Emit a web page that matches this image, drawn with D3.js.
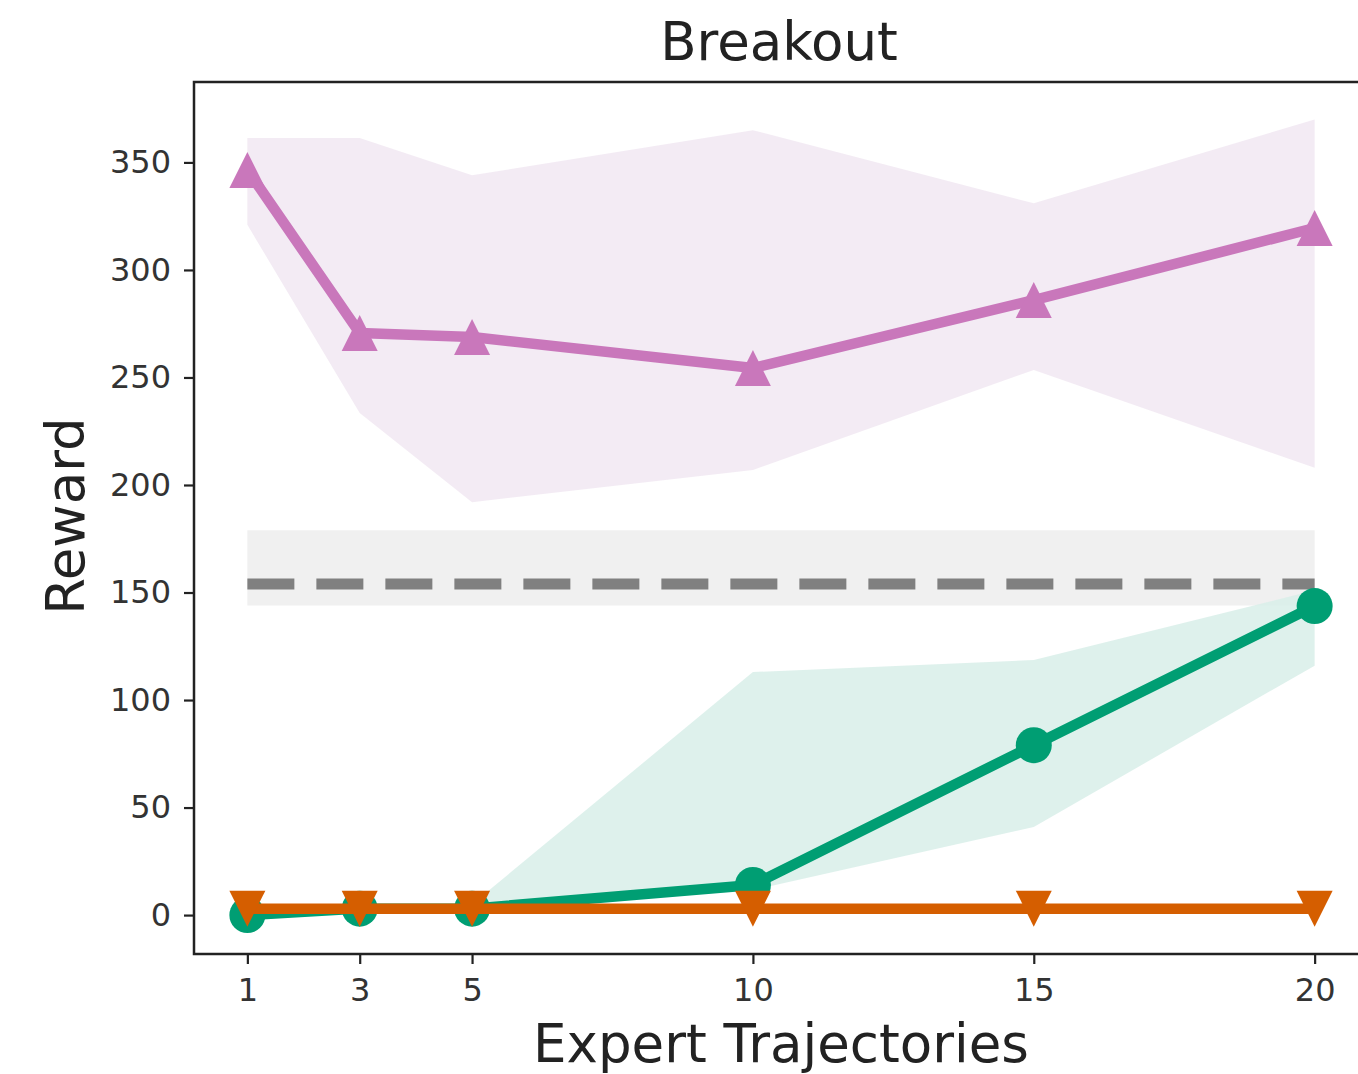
<!DOCTYPE html>
<html>
<head>
<meta charset="utf-8">
<script src="https://cdn.jsdelivr.net/npm/d3@7"></script>
<style>
  html, body { margin: 0; padding: 0; background: #fff; }
  svg { display: block; font-family: "DejaVu Sans", sans-serif; }
</style>
</head>
<body>
<div id="chart"></div>
<script>
// Breakout — reward vs number of expert trajectories
const TRAJ = [1, 3, 5, 10, 15, 20];
const X_TICKS = [1, 3, 5, 10, 15, 20];
const Y_TICKS = [0, 50, 100, 150, 200, 250, 300, 350];

// magenta triangles
const PINK_MEAN  = [346.5, 270.7, 268.8, 254.4, 286, 319.5];
const PINK_UPPER = [361.4, 361.4, 344, 365, 331, 370];
const PINK_LOWER = [321, 233.5, 192, 207, 253.5, 208];

// green circles
const GREEN_MEAN  = [0, 3, 3, 14, 79, 143.7];
const GREEN_UPPER = [0.5, 3.5, 5, 113, 118.6, 151];
const GREEN_LOWER = [-0.5, 2.5, 2.5, 11.6, 41, 116];

// orange down triangles
const ORANGE_MEAN = [3, 3, 3, 3, 3, 3];

// expert reference (dashed) with band
const EXPERT_MEAN = 154;
const EXPERT_UPPER = 179;
const EXPERT_LOWER = 144;

const W = 1358, H = 1074;
const M = { top: 82, left: 194 };
const PLOT_R = 1368, PLOT_B = 954;

const svg = d3.select("#chart").append("svg").attr("width", W).attr("height", H);

const x = d3.scaleLinear().domain([0.05, 20.95]).range([M.left, PLOT_R]);
const y = d3.scaleLinear().domain([-18.1, 387.4]).range([PLOT_B, M.top]);

const pts = (ys) => TRAJ.map((t, i) => ({ t, v: ys[i] }));
const band = (lo, hi) => TRAJ.map((t, i) => ({ t, lo: lo[i], hi: hi[i] }));

const areaGen = d3.area().x(d => x(d.t)).y0(d => y(d.lo)).y1(d => y(d.hi));
const lineGen = d3.line().x(d => x(d.t)).y(d => y(d.v));

const plot = svg.append("g");

// expert band + dashed line
plot.append("path")
  .datum([{ t: TRAJ[0], lo: EXPERT_LOWER, hi: EXPERT_UPPER }, { t: TRAJ[TRAJ.length - 1], lo: EXPERT_LOWER, hi: EXPERT_UPPER }])
  .attr("fill", "#f0f0f0").attr("d", areaGen);
plot.append("path")
  .datum([{ t: TRAJ[0], v: EXPERT_MEAN }, { t: TRAJ[TRAJ.length - 1], v: EXPERT_MEAN }])
  .attr("fill", "none").attr("stroke", "#808080").attr("stroke-width", 11)
  .attr("stroke-dasharray", "47,22").attr("d", lineGen);

const S = 18; // marker half size

function series(mean, lo, hi, color, marker, bandFill) {
  if (lo) {
    plot.append("path").datum(band(lo, hi))
      .attr("fill", bandFill).attr("fill-opacity", 0.85).attr("d", areaGen);
  }
  plot.append("path").datum(pts(mean))
    .attr("fill", "none").attr("stroke", color).attr("stroke-width", 10.5)
    .attr("stroke-linejoin", "round").attr("d", lineGen);
  const g = plot.append("g");
  pts(mean).forEach(d => {
    const cx = x(d.t), cy = y(d.v);
    if (marker === "circle") {
      g.append("circle").attr("cx", cx).attr("cy", cy).attr("r", S).attr("fill", color);
    } else {
      const s = marker === "up" ? 1 : -1;
      g.append("path")
        .attr("d", `M${cx},${cy - s * S}L${cx - S},${cy + s * S}L${cx + S},${cy + s * S}Z`)
        .attr("fill", color);
    }
  });
}

series(PINK_MEAN, PINK_LOWER, PINK_UPPER, "#C977BB", "up", "#F1E7F2");
series(GREEN_MEAN, GREEN_LOWER, GREEN_UPPER, "#009E73", "circle", "#D8EFE9");
series(ORANGE_MEAN, null, null, "#D55E00", "down", null);

// axes
const xAxis = svg.append("g").attr("transform", `translate(0,${PLOT_B})`)
  .call(d3.axisBottom(x).tickValues(X_TICKS).tickSize(10).tickPadding(14).tickSizeOuter(0));
const yAxis = svg.append("g").attr("transform", `translate(${M.left},0)`)
  .call(d3.axisLeft(y).tickValues(Y_TICKS).tickSize(10).tickPadding(13).tickSizeOuter(0));

[xAxis, yAxis].forEach(a => {
  a.select(".domain").remove();
  a.selectAll(".tick line").attr("stroke", "#222").attr("stroke-width", 2.2);
  a.selectAll(".tick text").attr("fill", "#333").attr("font-size", 32)
    .attr("font-family", "DejaVu Sans, sans-serif");
});

// spines
svg.append("rect")
  .attr("x", M.left).attr("y", M.top)
  .attr("width", PLOT_R - M.left).attr("height", PLOT_B - M.top)
  .attr("fill", "none").attr("stroke", "#222").attr("stroke-width", 2.5);

// labels
svg.append("text").attr("x", (M.left + PLOT_R) / 2 - 2).attr("y", 60)
  .attr("text-anchor", "middle").attr("font-size", 53).attr("fill", "#222").text("Breakout");
svg.append("text").attr("x", (M.left + PLOT_R) / 2).attr("y", 1062)
  .attr("text-anchor", "middle").attr("font-size", 53).attr("fill", "#222").text("Expert Trajectories");
svg.append("text")
  .attr("transform", `translate(84,${(M.top + PLOT_B) / 2 - 2}) rotate(-90)`)
  .attr("text-anchor", "middle").attr("font-size", 53).attr("fill", "#222").text("Reward");
</script>
</body>
</html>
